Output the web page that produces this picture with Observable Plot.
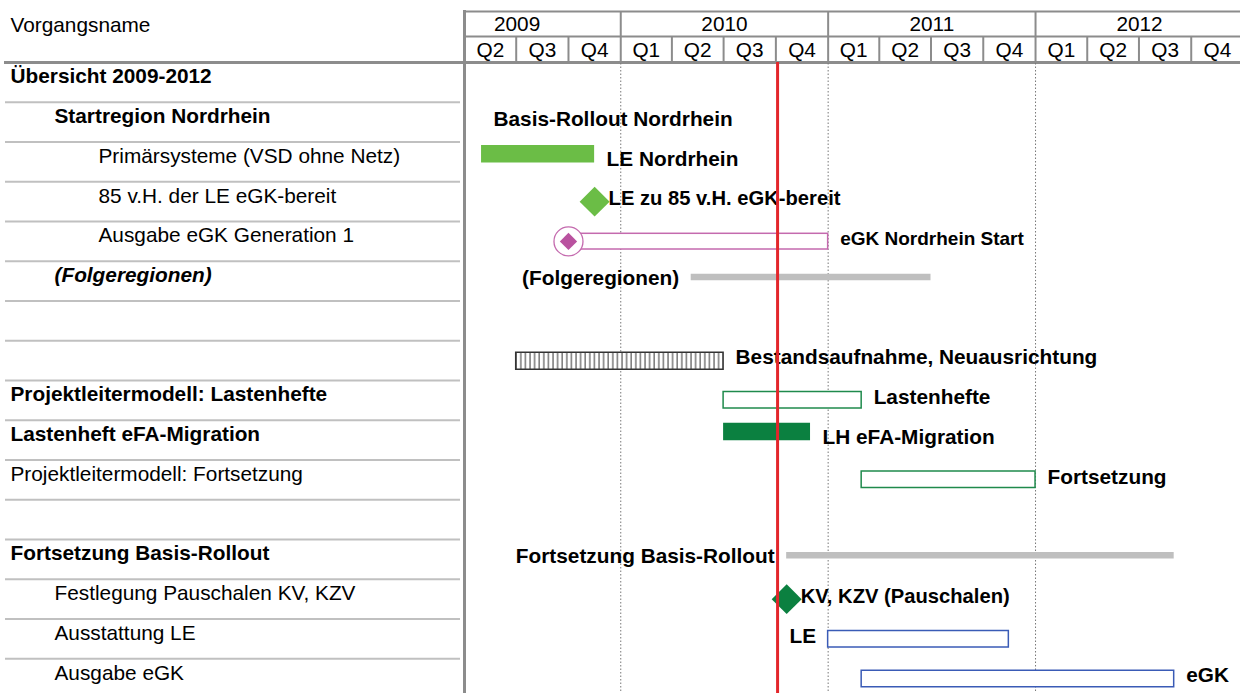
<!DOCTYPE html>
<html><head><meta charset="utf-8">
<script src="https://cdn.jsdelivr.net/npm/d3@7"></script>
<script src="https://cdn.jsdelivr.net/npm/@observablehq/plot@0.6"></script>
<style>
html,body{margin:0;padding:0;background:#fff;}
#chart{width:1240px;height:693px;overflow:hidden;}
</style></head><body><div id="chart"></div>
<script>
// ---- data ----
const rowNames = ["Übersicht 2009-2012","Startregion Nordrhein","Primärsysteme (VSD ohne Netz)","85 v.H. der LE eGK-bereit","Ausgabe eGK Generation 1","(Folgeregionen)","","","Projektleitermodell: Lastenhefte","Lastenheft eFA-Migration","Projektleitermodell: Fortsetzung","","Fortsetzung Basis-Rollout","Festlegung Pauschalen KV, KZV","Ausstattung LE","Ausgabe eGK"];
const rowLevel = [0,1,2,2,2,1,0,0,0,0,0,0,0,1,1,1];
const rowStyle = ["bold","bold","normal","normal","normal","bolditalic","normal","normal","bold","bold","normal","normal","bold","normal","normal","normal"];

const headerLabel = "Vorgangsname";
const years = [2009,2010,2011,2012];
const quarterLabels = ["Q1","Q2","Q3","Q4"];
const timeStart = "2009-04-01", timeEnd = "2013-01-01";
const statusDate = "2010-10-04";

const taskRow   = [2,4,5,7,8,9,10,12,14,15];
const taskStart = ["2009-05-01","2009-10-01","2010-05-05","2009-07-01","2010-07-01","2010-07-01","2011-03-01","2010-10-20","2011-01-01","2011-03-01"];
const taskEnd   = ["2009-11-16","2011-01-01","2011-07-01","2010-07-01","2011-03-01","2010-12-01","2012-01-01","2012-09-01","2011-11-15","2012-09-01"];
const taskKind  = ["done","rollout","summary","review","plan","done2","plan","summary","equip","equip"];
const taskLabel = ["LE Nordrhein","eGK Nordrhein Start","(Folgeregionen)","Bestandsaufnahme, Neuausrichtung","Lastenhefte","LH eFA-Migration","Fortsetzung","Fortsetzung Basis-Rollout","LE","eGK"];
const taskLabelSide = ["right","right","left","right","right","right","right","left","left","right"];

const msRow   = [3,4,13];
const msDate  = ["2009-11-16","2009-10-01","2010-10-20"];
const msKind  = ["done","rollout","done2"];
const msLabel = ["LE zu 85 v.H. eGK-bereit","","KV, KZV (Pauschalen)"];

const noteRow  = [1];
const noteDate = ["2009-05-22"];
const noteText = ["Basis-Rollout Nordrhein"];

// ---- derived tables ----
const D = s => new Date(s + "T00:00:00Z");
const rows = rowNames.map((name, i) => ({i, name, level: rowLevel[i], style: rowStyle[i]}));
const tasks = taskRow.map((r, i) => ({row: r, start: D(taskStart[i]), end: D(taskEnd[i]), kind: taskKind[i], label: taskLabel[i], side: taskLabelSide[i]}));
const milestones = msRow.map((r, i) => ({row: r, date: D(msDate[i]), kind: msKind[i], label: msLabel[i]}));
const notes = noteRow.map((r, i) => ({row: r, date: D(noteDate[i]), text: noteText[i]}));
const t0 = D(timeStart), t1 = D(timeEnd);
const quarters = [];
years.forEach(y => quarterLabels.forEach((q, k) => {
  const s = new Date(Date.UTC(y, k * 3, 1)), e = new Date(Date.UTC(y, k * 3 + 3, 1));
  if (s >= t0 && s < t1) quarters.push({label: q, start: s, mid: new Date((+s + +e) / 2), yearStart: k === 0});
}));
const yearItems = years.map(y => ({label: String(y), mid: new Date((Date.UTC(y,0,1) + Date.UTC(y+1,0,1)) / 2), start: new Date(Date.UTC(y,0,1))}));

// ---- layout constants ----
const W = 1240, H = 693;
const tableTop = 62, rowH = 39.75;
const bw = rowH;
const FONT = "'Liberation Sans', Arial, sans-serif";
const FS = 20.8;

const kindStyle = {
  done:    {fill: "#6bbd46", stroke: "none", top: 3.5, bottom: 21, fs: FS},
  done2:   {fill: "#0b8040", stroke: "none", top: 3, bottom: 20.5, fs: FS},
  rollout: {fill: "#ffffff", stroke: "#c46aae", top: 12.3, bottom: 28, fs: 19},
  summary: {fill: "#bfbfbf", stroke: "none", top: 13, bottom: 19.5, fs: FS},
  review:  {fill: "url(#hatch)", stroke: "#333333", top: 12, bottom: 29, fs: FS},
  plan:    {fill: "#ffffff", stroke: "#1f8a4c", top: 11.5, bottom: 28, fs: FS},
  equip:   {fill: "#ffffff", stroke: "#3a5bb6", top: 12, bottom: 28.5, fs: FS}
};
const msStyle = {done: "#6bbd46", done2: "#0b8040", rollout: "#b9529f"};
const indent = [10, 54, 98];
const weightOf = s => (s === "normal" ? "normal" : "bold");
const italicOf = s => (s === "bolditalic" ? "italic" : "normal");

const marks = [];
// header frame lines
marks.push(Plot.frame({anchor: "top", insetTop: 11, insetLeft: 464, stroke: "#8c8c8c", strokeWidth: 2}));
marks.push(Plot.frame({anchor: "top", insetTop: 36, insetLeft: 464, stroke: "#8c8c8c", strokeWidth: 2}));
marks.push(Plot.frame({anchor: "top", insetTop: 62, insetLeft: 5, stroke: "#8c8c8c", strokeWidth: 3}));
// year & quarter separators in header
marks.push(Plot.ruleX(quarters.filter(q => !q.yearStart), {x: "start", insetTop: 36, insetBottom: H - 62, stroke: "#8c8c8c", strokeWidth: 2}));
marks.push(Plot.ruleX(yearItems.filter(y => y.start > t0), {x: "start", insetTop: 11, insetBottom: H - 62, stroke: "#8c8c8c", strokeWidth: 2}));
// dotted year gridlines
marks.push(Plot.ruleX(yearItems.filter(y => y.start > t0), {x: "start", insetTop: 63, stroke: "#777", strokeWidth: 1, strokeDasharray: "1.5,2"}));
// header texts
marks.push(Plot.text([headerLabel], {text: d => d, frameAnchor: "top-left", dx: 10, dy: 25, lineAnchor: "middle", fontSize: FS, fill: "#000"}));
marks.push(Plot.text(yearItems, {x: "mid", text: "label", frameAnchor: "top", dy: 24, lineAnchor: "middle", fontSize: FS, fill: "#000"}));
marks.push(Plot.text(quarters, {x: "mid", text: "label", frameAnchor: "top", dy: 50, lineAnchor: "middle", fontSize: FS, fill: "#000"}));
// left table row separators
marks.push(Plot.ruleY(rows.slice(0, rows.length - 1), {y: "i", dy: bw / 2, insetLeft: 5, insetRight: W - 460, stroke: "#c0c0c0", strokeWidth: 2}));
// left thick vertical line
marks.push(Plot.frame({anchor: "left", insetLeft: 464, insetTop: 11, stroke: "#8c8c8c", strokeWidth: 3}));
// row names
for (const lvl of [0,1,2]) for (const st of ["normal","bold","bolditalic"]) {
  const sub = rows.filter(r => r.level === lvl && r.style === st && r.name);
  if (!sub.length) continue;
  marks.push(Plot.text(sub, {y: "i", text: "name", frameAnchor: "left", textAnchor: "start", dx: indent[lvl], dy: 14.3 - bw / 2,
    fontSize: FS, fontWeight: weightOf(st), fontStyle: italicOf(st), fill: "#000"}));
}
// bars
for (const k of Object.keys(kindStyle)) {
  const s = kindStyle[k];
  const sub = tasks.filter(t => t.kind === k);
  if (!sub.length) continue;
  marks.push(Plot.barX(sub, {y: "row", x1: "start", x2: "end", fill: s.fill, stroke: s.stroke, strokeWidth: 1.5,
    insetTop: s.top, insetBottom: bw - s.bottom}));
}
// milestones
const roll = milestones.filter(m => m.kind === "rollout");
marks.push(Plot.dot(roll, {y: "row", x: "date", r: 14.5, fill: "#fff", stroke: "#c46aae", strokeWidth: 1.3}));
marks.push(Plot.dot(roll, {y: "row", x: "date", r: 7.8, symbol: "diamond2", fill: msStyle.rollout, stroke: "none"}));
const ms = milestones.filter(m => m.kind !== "rollout");
marks.push(Plot.dot(ms, {y: "row", x: "date", r: 13.5, symbol: "diamond2", fill: d => msStyle[d.kind], stroke: "none"}));
// labels
const lblBase = {fontWeight: "bold", fill: "#000", dy: 17 - bw / 2};
for (const k of Object.keys(kindStyle)) {
  const fs = kindStyle[k].fs;
  const r = tasks.filter(t => t.kind === k && t.side === "right");
  const l = tasks.filter(t => t.kind === k && t.side === "left");
  if (r.length) marks.push(Plot.text(r, {y: "row", x: "end", text: "label", textAnchor: "start", dx: 12, fontSize: fs, ...lblBase}));
  if (l.length) marks.push(Plot.text(l, {y: "row", x: "start", text: "label", textAnchor: "end", dx: -12, fontSize: fs, ...lblBase}));
}
marks.push(Plot.text(ms.filter(m => m.label), {y: "row", x: "date", text: "label", textAnchor: "start", dx: 14, fontSize: 20.2, ...lblBase}));
marks.push(Plot.text(notes, {y: "row", x: "date", text: "text", textAnchor: "start", fontSize: FS, ...lblBase}));
// status date line
marks.push(Plot.ruleX([D(statusDate)], {x: d => d, insetTop: 62, stroke: "#e3262b", strokeWidth: 3}));

const chart = Plot.plot({
  width: W, height: H,
  margin: 0,
  style: {fontFamily: FONT, fontSize: FS + "px", background: "#fff", color: "#000", overflow: "hidden"},
  x: {type: "utc", domain: [t0, t1], range: [464, 1243], axis: null},
  y: {type: "band", domain: d3.range(rowNames.length), range: [tableTop, tableTop + rowH * rowNames.length], padding: 0, round: false, axis: null},
  marks
});
const svgEl = chart.tagName.toLowerCase() === "svg" ? chart : chart.querySelector("svg");
const ns = "http://www.w3.org/2000/svg";
const defs = document.createElementNS(ns, "defs");
defs.innerHTML = '<pattern id="hatch" width="4.6" height="20" patternUnits="userSpaceOnUse"><rect width="4.6" height="20" fill="#fff"/><line x1="1" y1="0" x2="1" y2="20" stroke="#333" stroke-width="1"/></pattern>';
svgEl.insertBefore(defs, svgEl.firstChild);
document.getElementById("chart").appendChild(chart);
</script></body></html>
